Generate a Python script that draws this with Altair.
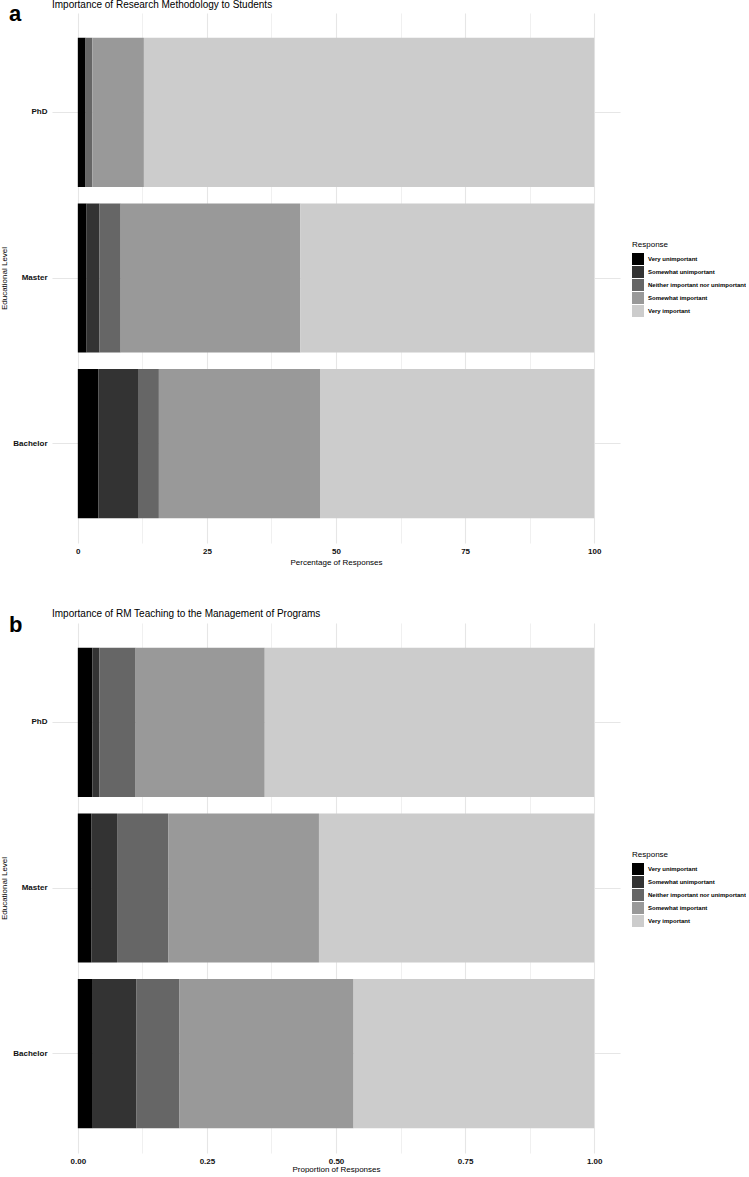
import altair as alt
import pandas as pd

levels = ["PhD", "Master", "Bachelor"]
responses = [
    "Very unimportant",
    "Somewhat unimportant",
    "Neither important nor unimportant",
    "Somewhat important",
    "Very important",
]
grey_colors = ["#000000", "#333333", "#666666", "#999999", "#cccccc"]

# Panel a: percentage of responses (Importance of Research Methodology to Students)
pct_phd = [1.5, 0.0, 1.3, 10.0, 87.2]
pct_master = [1.7, 2.5, 4.1, 34.8, 56.9]
pct_bachelor = [4.0, 7.8, 3.9, 31.2, 53.1]

# Panel b: proportion of responses (Importance of RM Teaching to the Management of Programs)
prop_phd = [0.028, 0.014, 0.070, 0.250, 0.638]
prop_master = [0.026, 0.050, 0.099, 0.292, 0.533]
prop_bachelor = [0.029, 0.084, 0.084, 0.337, 0.466]

ticks_a = [0, 12.5, 25, 37.5, 50, 62.5, 75, 87.5, 100]
ticks_b = [0, 0.125, 0.25, 0.375, 0.5, 0.625, 0.75, 0.875, 1.0]


def make_df(rows):
    recs = []
    for lev, vals in zip(levels, rows):
        for i, (r, v) in enumerate(zip(responses, vals)):
            recs.append({"level": lev, "response": r, "order": i, "value": v})
    return pd.DataFrame(recs)


df_a = make_df([pct_phd, pct_master, pct_bachelor])
df_b = make_df([prop_phd, prop_master, prop_bachelor])

W, H = 568, 530


def panel(df, title, letter, xtitle, domain, ticks, fmt, major, title_y, letter_y, xtitle_pad):
    is_major = f"abs(datum.value / {major} - round(datum.value / {major})) < 1e-6"
    bars = alt.Chart(df).mark_bar().encode(
        x=alt.X(
            "value:Q",
            stack="zero",
            scale=alt.Scale(domain=domain, nice=False, zero=False),
            axis=alt.Axis(
                title=xtitle,
                values=ticks,
                format=fmt,
                labelExpr=f"{is_major} ? datum.label : ''",
                labelOverlap=False,
                labelFlush=False,
                ticks=False,
                tickSize=0,
                domain=False,
                grid=True,
                gridColor="#e6e6e6",
                gridWidth={"condition": {"test": is_major, "value": 1.1}, "value": 0.6},
                labelFontSize=8,
                labelFontWeight="bold",
                labelColor="#111111",
                labelPadding=4,
                titleFontSize=8,
                titleFontWeight="normal",
                titleColor="#000000",
                titlePadding=xtitle_pad,
            ),
        ),
        y=alt.Y(
            "level:N",
            sort=levels,
            scale=alt.Scale(paddingInner=0.1, paddingOuter=0.15),
            axis=alt.Axis(
                title="Educational Level",
                bandPosition=0.5,
                grid=True,
                gridColor="#e6e6e6",
                gridWidth=1.1,
                ticks=False,
                tickSize=0,
                domain=False,
                labelFontSize=8,
                labelFontWeight="bold",
                labelColor="#111111",
                labelPadding=5,
                titleFontSize=8,
                titleFontWeight="normal",
                titleColor="#000000",
                titlePadding=4,
            ),
        ),
        color=alt.Color(
            "response:N",
            sort=responses,
            scale=alt.Scale(domain=responses, range=grey_colors),
            legend=alt.Legend(
                title="Response",
                orient="none",
                legendX=580,
                legendY=228,
                symbolType="square",
                symbolSize=144,
                symbolStrokeWidth=0,
                symbolOpacity=1,
                labelFontSize=6.0,
                labelFontWeight="bold",
                labelColor="#000000",
                labelOffset=4,
                rowPadding=1,
                titleFontSize=8,
                titleFontWeight="normal",
                titleColor="#000000",
                titlePadding=4,
                padding=0,
            ),
        ),
        order=alt.Order("order:Q"),
    )
    ttl = alt.Chart(alt.Data(values=[{"t": title}])).mark_text(
        text=title, fontSize=10, fontWeight="normal", align="left", baseline="alphabetic", color="#000000"
    ).encode(x=alt.value(0), y=alt.value(title_y))
    lab = alt.Chart(alt.Data(values=[{"t": letter}])).mark_text(
        text=letter, fontSize=22, fontWeight="bold", align="left", baseline="alphabetic", color="#000000"
    ).encode(x=alt.value(-43), y=alt.value(letter_y))
    return alt.layer(bars, ttl, lab).properties(width=W, height=H)


pa = panel(df_a, "Importance of Research Methodology to Students", "a",
           "Percentage of Responses", [-5, 105], ticks_a, "d", 25, -5.0, 7.5, 3)
pb = panel(df_b, "Importance of RM Teaching to the Management of Programs", "b",
           "Proportion of Responses", [-0.05, 1.05], ticks_b, ".2f", 0.25, -6.5, 8.5, 0)

chart = (
    alt.vconcat(pa, pb, spacing=42)
    .resolve_scale(color="independent", x="independent", y="independent")
    .resolve_legend(color="independent")
    .properties(padding={"left": 0, "top": 0, "right": 0, "bottom": 0}, background="white")
    .configure(font="Liberation Sans")
    .configure_view(stroke=None)
)

chart.save("out.html", embed_options={"renderer": "svg", "actions": False})
